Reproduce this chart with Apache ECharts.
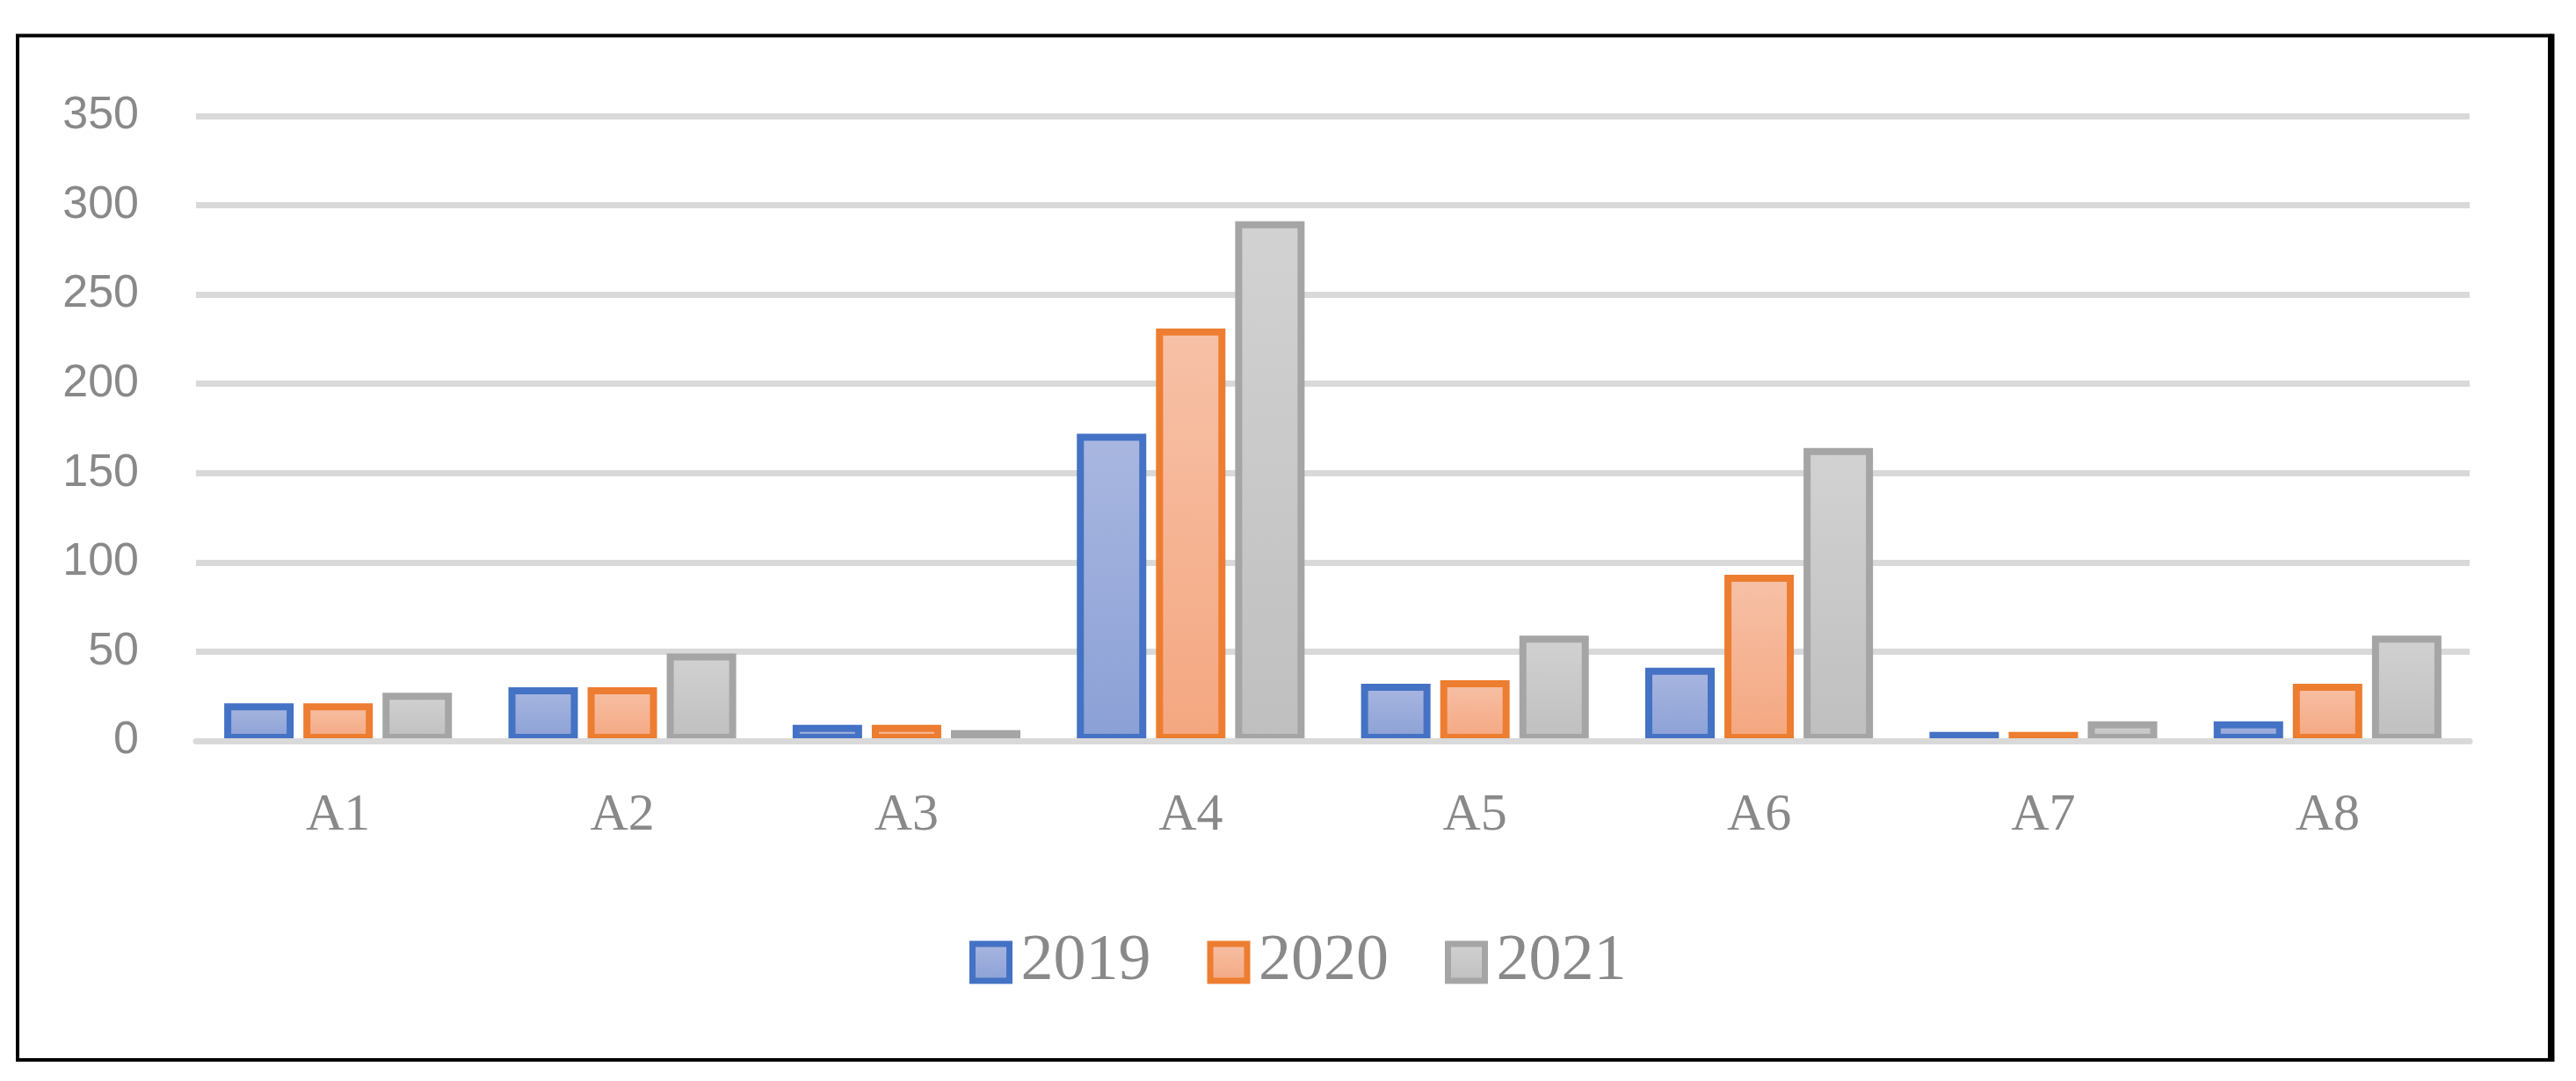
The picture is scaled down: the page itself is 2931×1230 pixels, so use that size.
<!DOCTYPE html>
<html>
<head>
<meta charset="utf-8">
<style>
  html, body { margin: 0; padding: 0; background: #ffffff; }
  #chart { width: 2931px; height: 1230px; }
</style>
<script src="https://cdn.jsdelivr.net/npm/echarts@6/dist/echarts.min.js"></script>
</head>
<body>
<div id="chart"></div>
<script>
const categories = ['A1', 'A2', 'A3', 'A4', 'A5', 'A6', 'A7', 'A8'];
const seriesNames = ['2019', '2020', '2021'];
const values2019 = [21, 30, 9, 172, 32, 41, 5, 11];
const values2020 = [21, 30, 9, 231, 34, 93, 5, 32];
const values2021 = [27, 49, 6, 291, 59, 164, 11, 59];
const yTicks = [0, 50, 100, 150, 200, 250, 300, 350];

const chart = echarts.init(document.getElementById('chart'), null, { renderer: 'canvas' });

function grad(top, bottom) {
  return new echarts.graphic.LinearGradient(0, 0, 0, 1, [
    { offset: 0, color: top },
    { offset: 1, color: bottom }
  ]);
}

const styles = [
  { border: '#4472c4', top: '#a9b7e0', bottom: '#8ba0d6' },
  { border: '#ed7d31', top: '#f7c1a7', bottom: '#f4a780' },
  { border: '#a5a5a5', top: '#d2d2d2', bottom: '#bfbfbf' }
];
const allValues = [values2019, values2020, values2021];

const series = seriesNames.map((name, i) => ({
  name: name,
  type: 'bar',
  data: allValues[i],
  barWidth: 79,
  barGap: '14%',
  itemStyle: {
    color: grad(styles[i].top, styles[i].bottom),
    borderColor: styles[i].border,
    borderWidth: 8
  },
  emphasis: { disabled: true }
}));

const option = {
  backgroundColor: '#ffffff',
  animation: false,
  grid: { left: 223, right: 121, top: 132, bottom: 387, containLabel: false },
  legend: {
    data: seriesNames.map((n, i) => ({
      name: n,
      itemStyle: {
        color: grad(styles[i].top, styles[i].bottom),
        borderColor: styles[i].border,
        borderWidth: 7
      }
    })),
    icon: 'rect',
    left: 1098,
    top: 1053,
    itemWidth: 42,
    itemHeight: 42,
    itemGap: 64,
    textStyle: {
      fontFamily: 'Liberation Serif',
      fontSize: 74,
      color: '#898989',
      padding: [0, 0, 0, 8]
    }
  },
  xAxis: {
    type: 'category',
    data: categories,
    z: 3,
    axisTick: { show: false },
    axisLine: { show: true, lineStyle: { color: '#d9d9d9', width: 7 } },
    axisLabel: {
      fontFamily: 'Liberation Serif',
      fontSize: 60,
      color: '#898989',
      margin: 55
    }
  },
  yAxis: {
    type: 'value',
    min: yTicks[0],
    max: yTicks[yTicks.length - 1],
    interval: 50,
    axisLine: { show: false },
    axisTick: { show: false },
    splitLine: { lineStyle: { color: '#d9d9d9', width: 7 } },
    axisLabel: {
      fontFamily: 'Liberation Sans',
      fontSize: 52,
      color: '#898989',
      margin: 65
    }
  },
  graphic: [
    {
      type: 'rect',
      shape: { x: 20, y: 40.5, width: 2881, height: 1165.5 },
      style: { fill: 'none', stroke: '#000000', lineWidth: 4 },
      silent: true
    },
    {
      type: 'line',
      shape: { x1: 2904, y1: 38.5, x2: 2904, y2: 1208 },
      style: { stroke: '#000000', lineWidth: 5 },
      silent: true
    }
  ],
  series: series
};

chart.setOption(option);
</script>
</body>
</html>
